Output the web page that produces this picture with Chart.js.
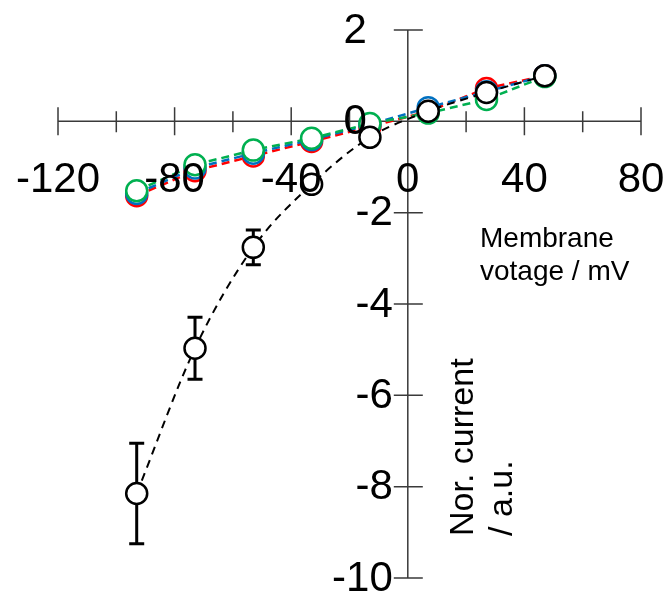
<!DOCTYPE html>
<html>
<head>
<meta charset="utf-8">
<script src="https://cdn.jsdelivr.net/npm/chart.js@4.4.1/dist/chart.umd.min.js"></script>
<style>
  html, body { margin: 0; padding: 0; background: #fff; }
</style>
</head>
<body>
<canvas id="ivChart" width="672" height="595"></canvas>
<script>
// membrane voltage (mV) of each step
const voltages = [-93, -73, -53, -33, -13, 7, 27, 47];

// normalised currents
const currentRed   = [-1.63, -1.08, -0.76, -0.44, -0.12, 0.22, 0.72, 1.0];
const currentBlue  = [-1.58, -1.02, -0.70, -0.40, -0.07, 0.30, 0.65, 1.0];
const currentGreen = [-1.52, -0.95, -0.63, -0.37, -0.05, 0.18, 0.48, 0.98];
const currentBlack = [-8.15, -4.97, -2.76, -1.38, -0.35, 0.22, 0.63, 1.0];
const errorBlack   = [1.1, 0.68, 0.38, 0, 0, 0, 0, 0];

const xTickLabels = [-120, -80, -40, 0, 40, 80];
const xMinorTicks = [-100, -60, -20, 20, 60];
const yTickLabels = [2, 0, -2, -4, -6, -8, -10];

const FONT = "'Liberation Sans', Arial, sans-serif";

function toPoints(ys) {
  return voltages.map((v, i) => ({ x: v, y: ys[i] }));
}

function series(label, ys, color, smooth) {
  return {
    label: label,
    data: toPoints(ys),
    borderColor: color,
    borderWidth: smooth ? 2 : 2.5,
    borderDash: smooth ? [8, 6] : [8, 5],
    pointRadius: 10.5,
    pointHoverRadius: 10.5,
    pointBorderWidth: 2.5,
    pointBorderColor: color,
    pointBackgroundColor: '#fff',
    tension: smooth ? 0.4 : 0,
    cubicInterpolationMode: smooth ? 'monotone' : 'default',
    fill: false
  };
}

// axes cross at (0,0): lines, tick marks, tick labels and titles
const crossAxes = {
  id: 'crossAxes',
  beforeDatasetsDraw(chart) {
    const { ctx, chartArea, scales: { x, y } } = chart;
    const x0 = x.getPixelForValue(0);
    const y0 = y.getPixelForValue(0);
    ctx.save();
    ctx.strokeStyle = '#3a3a3a';
    ctx.lineWidth = 1.5;
    ctx.beginPath();
    ctx.moveTo(chartArea.left, y0);
    ctx.lineTo(chartArea.right, y0);
    ctx.moveTo(x0, chartArea.top);
    ctx.lineTo(x0, chartArea.bottom);
    xTickLabels.forEach(v => {
      const px = x.getPixelForValue(v);
      ctx.moveTo(px, y0 - 14);
      ctx.lineTo(px, y0 + 14);
    });
    xMinorTicks.forEach(v => {
      const px = x.getPixelForValue(v);
      ctx.moveTo(px, y0 - 10);
      ctx.lineTo(px, y0 + 11);
    });
    yTickLabels.forEach(v => {
      const py = y.getPixelForValue(v);
      ctx.moveTo(x0 - 14, py);
      ctx.lineTo(x0 + 15, py);
    });
    ctx.stroke();

    // error bars of the black series
    ctx.strokeStyle = '#000';
    ctx.lineWidth = 3;
    ctx.beginPath();
    voltages.forEach((v, i) => {
      const e = errorBlack[i];
      if (!e) return;
      const px = x.getPixelForValue(v);
      const top = y.getPixelForValue(currentBlack[i] + e);
      const bot = y.getPixelForValue(currentBlack[i] - e);
      ctx.moveTo(px, top);
      ctx.lineTo(px, bot);
      ctx.moveTo(px - 7.5, top);
      ctx.lineTo(px + 7.5, top);
      ctx.moveTo(px - 7.5, bot);
      ctx.lineTo(px + 7.5, bot);
    });
    ctx.stroke();
    ctx.restore();
  },
  afterDatasetsDraw(chart) {
    const { ctx, scales: { x, y } } = chart;
    const x0 = x.getPixelForValue(0);
    const y0 = y.getPixelForValue(0);
    ctx.save();
    ctx.fillStyle = '#000';
    ctx.font = '42px ' + FONT;
    ctx.textAlign = 'center';
    ctx.textBaseline = 'alphabetic';
    xTickLabels.forEach(v => {
      ctx.fillText(String(v), x.getPixelForValue(v), y0 + 71);
    });
    ctx.textAlign = 'right';
    ctx.textBaseline = 'middle';
    yTickLabels.forEach(v => {
      const right = v < 0 ? x0 - 15 : x0 - 41;
      ctx.fillText(String(v), right, y.getPixelForValue(v) + 1);
    });

    ctx.textAlign = 'left';
    ctx.textBaseline = 'alphabetic';
    ctx.font = '28px ' + FONT;
    ctx.fillText('Membrane', 480, 247);
    ctx.fillText('votage / mV', 480, 280);
    ctx.font = '34px ' + FONT;
    ctx.translate(473, 536);
    ctx.rotate(-Math.PI / 2);
    ctx.fillText('Nor. current', 0, 0);
    ctx.fillText('/ a.u.', 0, 39);
    ctx.restore();
  }
};

new Chart(document.getElementById('ivChart').getContext('2d'), {
  type: 'line',
  data: {
    datasets: [
      series('Black', currentBlack, '#000000', true),
      series('Green', currentGreen, '#00B050', false),
      series('Blue', currentBlue, '#0070C0', false),
      series('Red', currentRed, '#FF0000', false)
    ]
  },
  options: {
    responsive: false,
    animation: false,
    devicePixelRatio: 1,
    layout: {
      padding: { left: 58, right: 31, top: 30, bottom: 17 }
    },
    plugins: {
      legend: { display: false },
      tooltip: { enabled: false }
    },
    scales: {
      x: {
        type: 'linear',
        min: -120,
        max: 80,
        position: { y: 0 },
        grid: { display: false },
        border: { display: false },
        ticks: { display: false, stepSize: 20 }
      },
      y: {
        type: 'linear',
        min: -10,
        max: 2,
        position: { x: 0 },
        grid: { display: false },
        border: { display: false },
        ticks: { display: false, stepSize: 2 }
      }
    }
  },
  plugins: [crossAxes]
});
</script>
</body>
</html>
